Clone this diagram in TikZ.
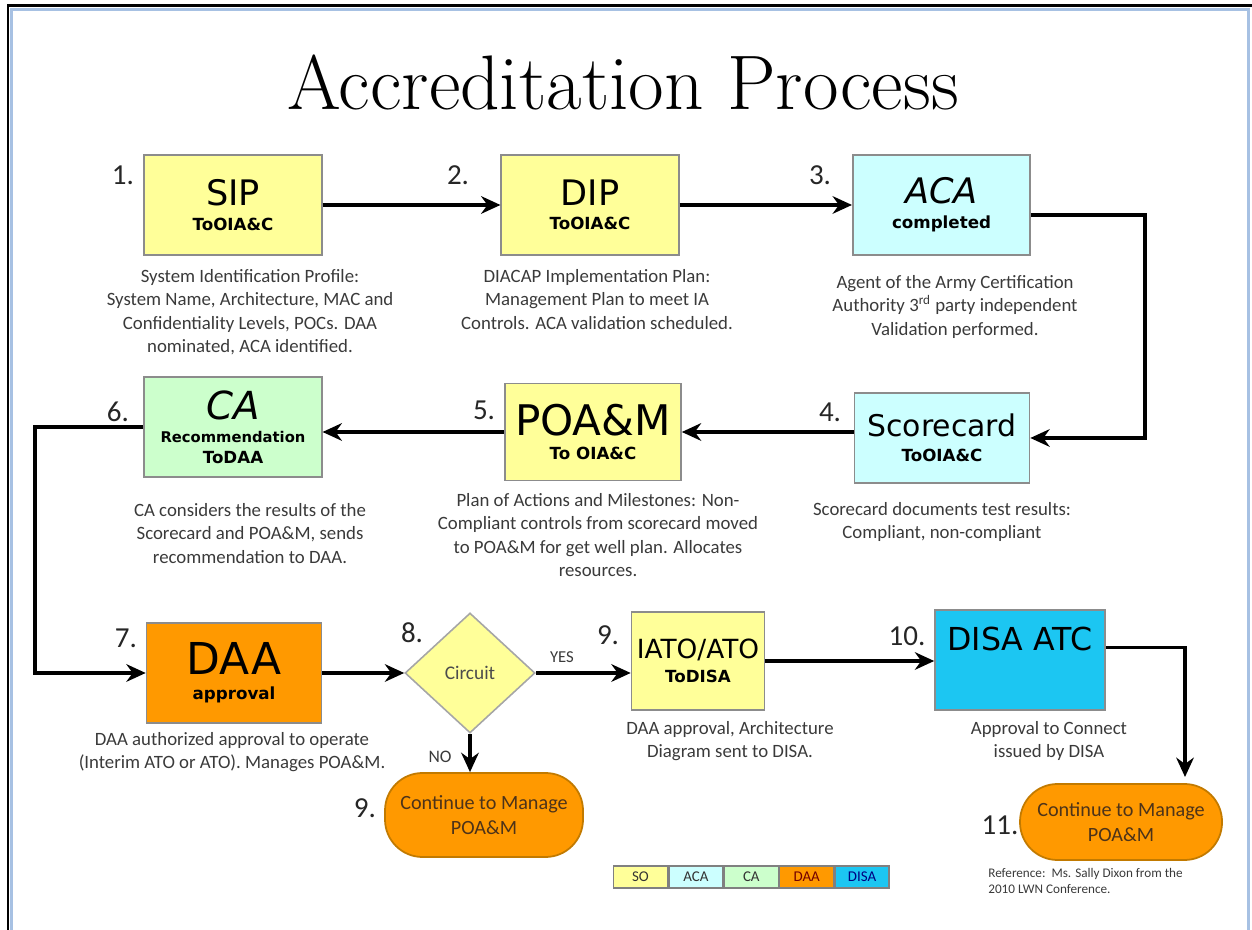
\documentclass[tikz,border=0pt]{standalone}
\usepackage{fontspec}
\usepackage{tikz}
\usetikzlibrary{shapes.geometric, positioning, arrows.meta}

\newfontfamily\descfont{Carlito}
\newfontfamily\boxfont{DejaVu Sans}

\definecolor{soyellow}{HTML}{FFFF99}
\definecolor{acablue}{HTML}{CCFFFF}
\definecolor{cagreen}{HTML}{CCFFCC}
\definecolor{daaorange}{HTML}{FF9900}
\definecolor{disablue}{HTML}{1CC6F2}
\definecolor{desctext}{HTML}{3A3A3A}
\definecolor{endedge}{HTML}{C27A00}
\definecolor{endtext}{HTML}{4D3319}
\definecolor{frameblue}{HTML}{A7C1E3}

\newcommand{\subtag}[1]{{\bfseries\fontsize{9.5}{11}\selectfont #1}}

\begin{document}
\begin{tikzpicture}[
    >={Stealth[length=11pt,width=10pt]},
    stepbox/.style={draw=black!45, line width=0.9pt, font=\boxfont, align=center, inner sep=1pt},
    desc/.style={font=\descfont\fontsize{10.7}{13.3}\selectfont, text=desctext, align=center, anchor=north, inner sep=0pt},
    num/.style={font=\descfont\fontsize{16.5}{18}\selectfont, text=black!85, inner sep=0pt},
    flow/.style={line width=2pt},
    endbox/.style={rounded corners=0.75cm, fill=daaorange, draw=endedge, line width=1pt, align=center, font=\descfont\fontsize{11.5}{14}\selectfont, text=endtext},
    legbox/.style={draw=black!50, line width=0.8pt, minimum width=1.08cm, minimum height=0.44cm, inner sep=0pt, font=\descfont\fontsize{8.5}{10}\selectfont, text=black!80}
  ]
  \useasboundingbox (0,0) rectangle (25.04,18.6);

  % Draw the frame
  \draw[line width=1.7pt] (0.16,0) -- (0.16,18.48) -- (25.04,18.48);
  \draw[frameblue, line width=1.5pt] (0.23,0) -- (0.23,18.41) -- (24.97,18.41) -- (24.97,0);

  % Title
  \node[anchor=base, font=\fontsize{44}{48}\selectfont] (title) at (12.46,16.4) {Accreditation Process};

  % First row
  \node[stepbox, fill=soyellow, minimum width=3.55cm, minimum height=2cm] (sip) at (4.66,14.5)
    {\fontsize{20}{22}\selectfont SIP\\[2pt]\subtag{ToOIA\&C}};
  \node[stepbox, fill=soyellow, minimum width=3.55cm, minimum height=2cm] (dip) at (11.8,14.5)
    {\fontsize{20}{22}\selectfont DIP\\[2pt]\subtag{ToOIA\&C}};
  \node[stepbox, fill=acablue, minimum width=3.55cm, minimum height=2cm] (aca) at (18.83,14.5)
    {\fontsize{20}{22}\selectfont\itshape ACA\\[2pt]\subtag{\upshape completed}};

  % Second row
  \node[stepbox, fill=cagreen, minimum width=3.55cm, minimum height=2cm] (ca) at (4.66,10.06)
    {\fontsize{22}{24}\selectfont\itshape CA\\[1pt]{\upshape\bfseries\fontsize{8.4}{10}\selectfont Recommendation}\\\subtag{\upshape ToDAA}};
  \node[stepbox, fill=soyellow, minimum width=3.52cm, minimum height=1.94cm] (poam) at (11.86,9.96)
    {\fontsize{24}{26}\selectfont POA\&M\\[2pt]\subtag{To OIA\&C}};
  \node[stepbox, fill=acablue, minimum width=3.5cm, minimum height=1.8cm] (score) at (18.84,9.84)
    {\fontsize{17}{20}\selectfont Scorecard\\[2pt]\subtag{ToOIA\&C}};

  % Third row
  \node[stepbox, fill=daaorange, minimum width=3.5cm, minimum height=2cm] (daa) at (4.68,5.14)
    {\fontsize{25}{27}\selectfont DAA\\[2pt]\subtag{approval}};
  \node[diamond, draw=black!35, line width=0.9pt, fill=soyellow, minimum width=2.6cm, minimum height=2.4cm, inner sep=0pt,
    font=\descfont\fontsize{11}{13}\selectfont, text=black!70] (circ) at (9.4,5.14) {Circuit};
  \node[stepbox, fill=soyellow, minimum width=2.66cm, minimum height=1.96cm] (iato) at (13.96,5.38)
    {\fontsize{15}{18}\selectfont IATO/ATO\\[2pt]\subtag{ToDISA}};
  \node[stepbox, fill=disablue, minimum width=3.4cm, minimum height=2cm] (disa) at (20.4,5.4)
    {\fontsize{18}{20}\selectfont DISA ATC\\[12pt]};

  % End states
  \node[endbox, minimum width=3.96cm, minimum height=1.68cm] (cont9) at (9.68,2.3) {Continue to Manage\\POA\&M};
  \node[endbox, minimum width=4.04cm, minimum height=1.52cm] (cont11) at (22.42,2.16) {Continue to Manage\\POA\&M};

  % Step numbers
  \node[num] (n1) at (2.46,15.1) {1.};
  \node[num] (n2) at (9.16,15.1) {2.};
  \node[num] (n3) at (16.4,15.1) {3.};
  \node[num] (n4) at (16.6,10.36) {4.};
  \node[num] (n5) at (9.68,10.4) {5.};
  \node[num] (n6) at (2.36,10.36) {6.};
  \node[num] (n7) at (2.52,5.84) {7.};
  \node[num] (n8) at (8.24,5.94) {8.};
  \node[num] (n9) at (12.16,5.9) {9.};
  \node[num] (n10) at (18.14,5.88) {10.};
  \node[num] (n9b) at (7.3,2.44) {9.};
  \node[num] (n11) at (20.0,2.1) {11.};

  % Descriptions
  \node[desc] (sipdesc) at (5.0,13.22) {System Identification Profile:\\System Name, Architecture, MAC and\\Confidentiality Levels, POCs. DAA\\nominated, ACA identified.};
  \node[desc] (dipdesc) at (11.94,13.22) {DIACAP Implementation Plan:\\Management Plan to meet IA\\Controls. ACA validation scheduled.};
  \node[desc] (acadesc) at (19.1,13.1) {Agent of the Army Certification\\Authority 3\textsuperscript{rd} party independent\\Validation performed.};
  \node[desc] (cadesc) at (5.0,8.54) {CA considers the results of the\\Scorecard and POA\&M, sends\\recommendation to DAA.};
  \node[desc] (poamdesc) at (11.96,8.74) {Plan of Actions and Milestones: Non-\\Compliant controls from scorecard moved\\to POA\&M for get well plan. Allocates\\resources.};
  \node[desc] (scoredesc) at (18.84,8.56) {Scorecard documents test results:\\Compliant, non-compliant};
  \node[desc] (daadesc) at (4.64,3.96) {DAA authorized approval to operate\\(Interim ATO or ATO). Manages POA\&M.};
  \node[desc] (iatodesc) at (14.6,4.18) {DAA approval, Architecture\\Diagram sent to DISA.};
  \node[desc] (disadesc) at (20.98,4.18) {Approval to Connect\\issued by DISA};

  % Turning points
  \coordinate (acaturn) at (22.9,14.3);
  \coordinate (caturn) at (0.7,10.06);
  \coordinate (disadrop) at (23.7,3.06);

  % Draw the flow
  \draw[flow, ->] (sip.east) -- (dip.west);
  \draw[flow, ->] (dip.east) -- (aca.west);
  \draw[flow, ->] (aca.east |- acaturn) -- (acaturn) |- (score.east);
  \draw[flow, ->] (score.west |- poam.east) -- (poam.east);
  \draw[flow, ->] (poam.west) -- (poam.west -| ca.east);
  \draw[flow, ->] (ca.west) -- (caturn) |- (daa.west);
  \draw[flow, ->] (daa.east) -- (circ.west);
  \draw[flow, ->] (circ.east) -- (circ.east -| iato.west);
  \draw[flow, ->] (circ.south) -- (circ.south |- cont9.north);
  \draw[flow, ->] (iato.east) -- (iato.east -| disa.west);
  \draw[flow, ->] ([yshift=0.25cm]disa.east) -| (disadrop);

  % Label the branches
  \node[font=\descfont\fontsize{9.5}{11}\selectfont, text=desctext] (yes) at (11.24,5.46) {YES};
  \node[font=\descfont\fontsize{10}{12}\selectfont, text=desctext] (no) at (8.8,3.46) {NO};

  % Legend
  \node[legbox, fill=soyellow] (lso) at (12.81,1.06) {SO};
  \node[legbox, fill=acablue, right=0pt of lso] (laca) {ACA};
  \node[legbox, fill=cagreen, right=0pt of laca] (lca) {CA};
  \node[legbox, fill=daaorange, right=0pt of lca, text=red!45!black] (ldaa) {DAA};
  \node[legbox, fill=disablue, right=0pt of ldaa, text=blue!50!black] (ldisa) {DISA};

  % Reference note
  \node[anchor=north west, align=left, inner sep=0pt, text=desctext, font=\descfont\fontsize{7.5}{9}\selectfont] (refnote) at (19.76,1.24)
    {Reference:\ \ Ms. Sally Dixon from the\\2010 LWN Conference.};
\end{tikzpicture}
\end{document}
